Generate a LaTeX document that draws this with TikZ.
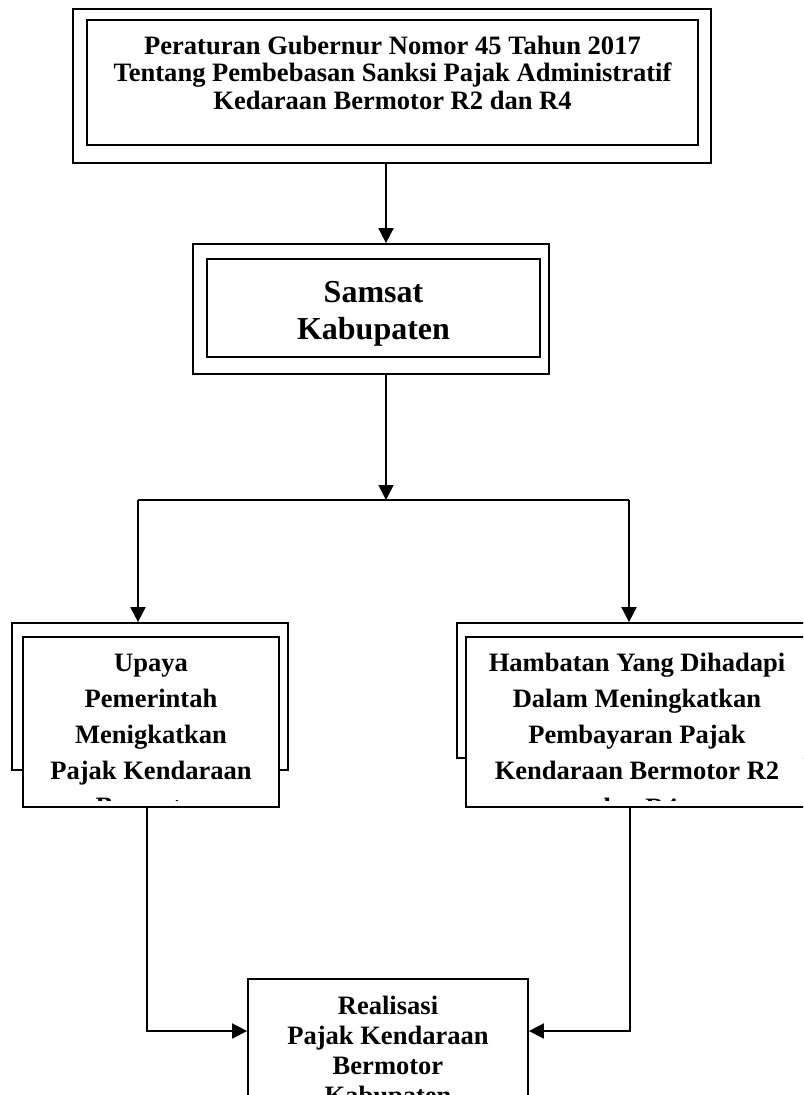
\documentclass[tikz,border=0pt]{standalone}
\usepackage{fontspec}
\setmainfont{Liberation Serif}
\usetikzlibrary{arrows.meta, positioning}

\begin{document}
\begin{tikzpicture}[x=0.2mm, y=-0.2mm,
			box/.style={draw, line width=0.35mm, inner sep=0pt},
			front/.style={box, fill=white},
			txt/.style={font=\bfseries\fontsize{15.1}{20.5}\selectfont, align=center, inner sep=0pt},
			arr/.style={-{Triangle[length=3mm, width=3mm]}, line width=0.35mm},
			ln/.style={line width=0.35mm}
			]
			\useasboundingbox (0,0) rectangle (803,1095);
			\clip (0,0) rectangle (803,1095);

			\node[box, minimum width=127.6mm, minimum height=30.8mm] (perOut) at (392,86) {};
			\node[box, minimum width=122.2mm, minimum height=25mm] (perIn) at (392.5,82.5) {};
			\node[txt, font=\bfseries\fontsize{15.1}{15.6}\selectfont, below=3.3mm of perIn.north] (per) {Peraturan Gubernur Nomor 45 Tahun 2017\\Tentang Pembebasan Sanksi Pajak Administratif\\Kedaraan Bermotor R2 dan R4};

			\node[box, minimum width=71.2mm, minimum height=26mm] (samOut) at (371,309) {};
			\node[box, minimum width=66.6mm, minimum height=19.6mm] (samIn) at (373.5,308) {};
			\node[txt, font=\bfseries\fontsize{18.2}{21}\selectfont, below=4.5mm of samIn.north] (sam) {Samsat\\Kabupaten};

			\node[box, minimum width=55.2mm, minimum height=29.4mm] (upBack) at (150,696.5) {};
			\node[front, minimum width=51.2mm, minimum height=34mm] (upFront) at (151,722) {};
			\node[box, minimum width=72mm, minimum height=27mm] (hbBack) at (637,690.5) {};
			\node[front, minimum width=68.4mm, minimum height=34mm] (hbFront) at (637,722) {};
			\node[box, minimum width=56mm, minimum height=34mm] (realBox) at (388,1064) {};

			\begin{scope}
				\clip (upFront.north west) rectangle ([yshift=1.4mm]upFront.south east);
				\node[txt, below=3.6mm of upFront.north] (up) {Upaya\\Pemerintah\\Menigkatkan\\Pajak Kendaraan\\Bermotor};
			\end{scope}
			\begin{scope}
				\clip (hbFront.north west) rectangle ([yshift=1.4mm]hbFront.south east);
				\node[txt, below=3.4mm of hbFront.north] (hb) {Hambatan Yang Dihadapi\\Dalam Meningkatkan\\Pembayaran Pajak\\Kendaraan Bermotor R2\\dan R4};
			\end{scope}
			\node[txt, font=\bfseries\fontsize{15.1}{17}\selectfont, below=3.6mm of realBox.north] (real) {Realisasi\\Pajak Kendaraan\\Bermotor\\Kabupaten};

			\coordinate (axis) at (386,0);
			\coordinate (split) at (386,500);
			\coordinate (lsplit) at (138,500);
			\coordinate (rsplit) at (629,500);
			\coordinate (ljoin) at (147,1031);
			\coordinate (rjoin) at (630,1031);

			\draw[arr] (perOut.south -| axis) -- (samOut.north -| axis);
			\draw[arr] (samOut.south -| axis) -- (split);
			\draw[ln]  (lsplit) -- (rsplit);
			\draw[arr] (lsplit) -- (lsplit |- upBack.north);
			\draw[arr] (rsplit) -- (rsplit |- hbBack.north);
			\draw[arr] (upFront.south -| ljoin) -- (ljoin) -- (realBox.west |- ljoin);
			\draw[arr] (hbFront.south -| rjoin) -- (rjoin) -- (realBox.east |- rjoin);
\end{tikzpicture}
\end{document}
